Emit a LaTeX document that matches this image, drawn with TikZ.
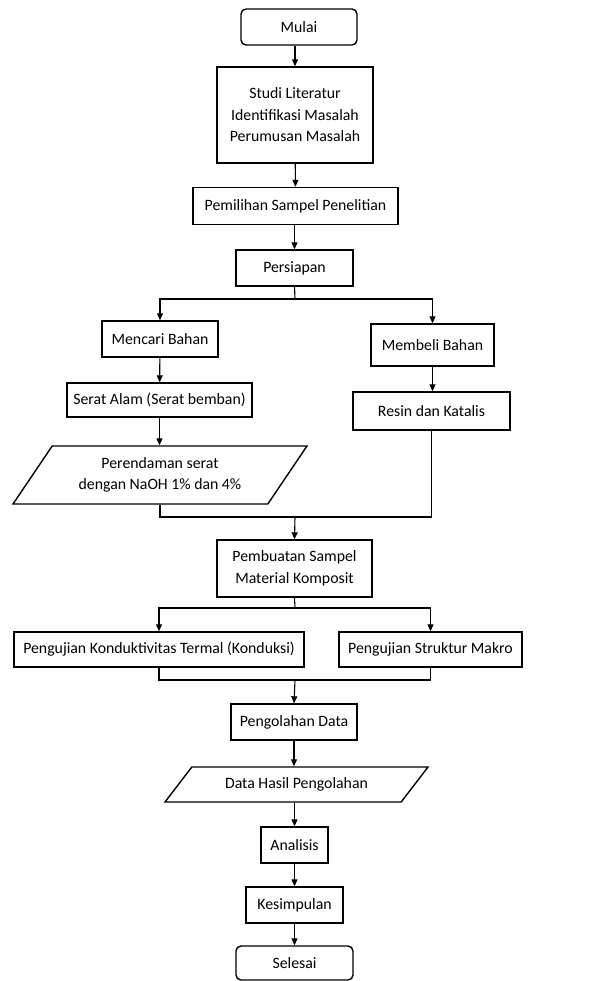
\documentclass[tikz,border=0pt]{standalone}
\usepackage{fontspec}
\setmainfont{Carlito}
\usetikzlibrary{arrows.meta,shapes.geometric}

\begin{document}
\begin{tikzpicture}[
    x=1pt, y=-1pt,
    font=\fontsize{15.8}{21.5}\selectfont,
    box/.style={rectangle, draw, line width=1.4pt, inner sep=2pt, align=center},
    terminal/.style={box, rounded corners=5pt},
    data/.style={trapezium, draw, line width=1.4pt, trapezium stretches body, inner sep=2pt, align=center},
    every path/.style={line width=1.1pt},
    >={Triangle[length=7pt,width=6pt]}
]
\useasboundingbox (0,0) rectangle (589,981);

% Top column
\node[terminal, minimum width=116pt, minimum height=36pt] (mulai) at (299,27) {Mulai};
\node[box, minimum width=156pt, minimum height=96pt] (studi) at (295,115) {Studi Literatur\\Identifikasi Masalah\\Perumusan Masalah};
\node[box, minimum width=205pt, minimum height=37pt] (pilih) at (295.5,206) {Pemilihan Sampel Penelitian};
\node[box, minimum width=117pt, minimum height=36pt] (siap) at (294.5,268) {Persiapan};

% Left branch
\node[box, minimum width=116pt, minimum height=36pt] (cari) at (160,339) {Mencari Bahan};
\node[box, minimum width=185pt, minimum height=34pt] (serat) at (159.5,400) {Serat Alam (Serat bemban)};
\node[data, trapezium left angle=45, trapezium right angle=135, minimum width=294pt, minimum height=58pt] (rendam) at (160,475) {Perendaman serat\\dengan NaOH 1\% dan 4\%};

% Right branch
\node[box, minimum width=123pt, minimum height=42pt] (beli) at (432.5,345) {Membeli Bahan};
\node[box, minimum width=157pt, minimum height=38pt] (resin) at (431.5,411) {Resin dan Katalis};

% Testing
\node[box, minimum width=155pt, minimum height=57pt] (buat) at (294.5,568.5) {Pembuatan Sampel\\Material Komposit};
\node[box, minimum width=290pt, minimum height=35pt] (konduksi) at (159,649.5) {Pengujian Konduktivitas Termal (Konduksi)};
\node[box, minimum width=183pt, minimum height=35pt] (makro) at (430.5,649.5) {Pengujian Struktur Makro};

% Bottom column
\node[box, minimum width=126pt, minimum height=36pt] (olah) at (294,722) {Pengolahan Data};
\node[data, trapezium left angle=33.4, trapezium right angle=146.6, minimum width=263pt, minimum height=35pt] (hasil) at (296.5,784.5) {Data Hasil Pengolahan};
\node[box, minimum width=67pt, minimum height=36pt] (analisis) at (294.5,845) {Analisis};
\node[box, minimum width=97pt, minimum height=36pt] (simpul) at (294.5,905) {Kesimpulan};
\node[terminal, minimum width=117pt, minimum height=34pt] (selesai) at (294.5,963) {Selesai};

% Split and join points
\coordinate (s1) at (295,299);
\coordinate (j1) at (295,517);
\coordinate (s2) at (295,608);
\coordinate (j2) at (295,680);

% Connections
\draw[->] (studi.north |- mulai.south) -- (studi.north);
\draw[->] (studi) -- (pilih);
\draw[->] (pilih.south -| siap) -- (siap.north);
\draw (siap.south) -- (s1);
\draw[->] (s1) -| (cari.north);
\draw[->] (s1) -| (beli.north);
\draw[->] (cari) -- (serat);
\draw[->] (serat) -- (serat |- rendam.north);
\draw[->] (beli) -- (beli |- resin.north);
\draw (rendam.south) |- (j1) -| (resin.south);
\draw[->] (j1) -- (buat.north);
\draw (buat.south) -- (s2);
\draw[->] (s2) -| (konduksi.north);
\draw[->] (s2) -| (makro.north);
\draw (konduksi.south) |- (j2) -| (makro.south);
\draw[->] (j2) -- (olah.north);
\draw[->] (olah.south) -- (olah.south |- hasil.north);
\draw[->] (analisis |- hasil.south) -- (analisis.north);
\draw[->] (analisis) -- (simpul);
\draw[->] (simpul) -- (selesai);

\end{tikzpicture}
\end{document}
